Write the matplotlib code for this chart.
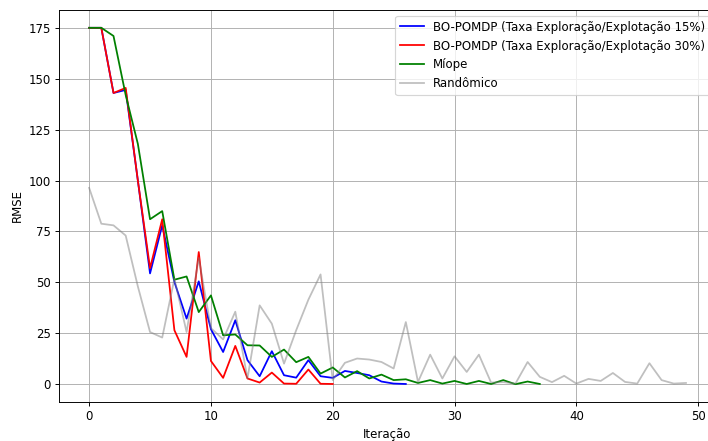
import matplotlib
matplotlib.use("Agg")
import matplotlib.pyplot as plt

bo15 = [175, 175, 143, 144.5, 100, 54.4, 78, 50.2, 32.2, 50.5, 27, 15.8, 31.4, 11.8, 3.9,
        16.2, 4.4, 3.2, 11.8, 3.9, 3.1, 6.5, 5.5, 4.4, 1.3, 0.3, 0.1]
bo30 = [175, 175, 143, 145.5, 100, 57, 81, 26.5, 13.4, 64.9, 11.4, 3.1, 18.8, 2.8, 0.8,
        5.7, 0.3, 0.2, 7.2, 0.2, 0.1]
miope = [175, 175, 171, 142, 118, 81, 85, 51.3, 52.9, 35.4, 43.6, 24, 24.4, 19.1, 19,
         13.4, 17, 10.8, 13.4, 5.2, 8.2, 3.3, 6.4, 2.8, 4.7, 2, 2.4, 0.6, 2, 0.3,
         1.6, 0.1, 1.6, 0.1, 2, 0, 1.3, 0.1]
randomico = [96.4, 78.8, 78, 73, 48, 25.6, 22.9, 51.8, 25.6, 62, 27.5, 22, 35.6, 2.8, 38.7,
             29.7, 10.1, 26.5, 41.5, 53.9, 2, 10.5, 12.6, 12.1, 10.9, 7.7, 30.5, 1.1, 14.5, 2.8,
             13.7, 6, 14.5, 0.8, 1, 0.3, 10.9, 3.6, 1, 4.1, 0.3, 2.6, 1.6, 5.5, 1.1,
             0.3, 10.3, 2, 0.3, 0.6]

labels = ["BO-POMDP (Taxa Exploração/Explotação 15%)",
          "BO-POMDP (Taxa Exploração/Explotação 30%)",
          "Míope", "Randômico"]

W, H = 708, 441
DPI = 85
fig = plt.figure(figsize=(W / DPI, H / DPI), dpi=DPI)
ax = fig.add_axes([59.3 / W, 39 / H, 656.5 / W, 392 / H])

ax.plot(range(len(bo15)), bo15, color="blue", label=labels[0])
ax.plot(range(len(bo30)), bo30, color="red", label=labels[1])
ax.plot(range(len(miope)), miope, color="green", label=labels[2])
ax.plot(range(len(randomico)), randomico, color="gray", alpha=0.5, label=labels[3])

ax.set_xlabel("Iteração")
ax.set_ylabel("RMSE")
ax.grid(True)
ax.legend(loc="upper right")

fig.savefig("out.png", dpi=DPI)
